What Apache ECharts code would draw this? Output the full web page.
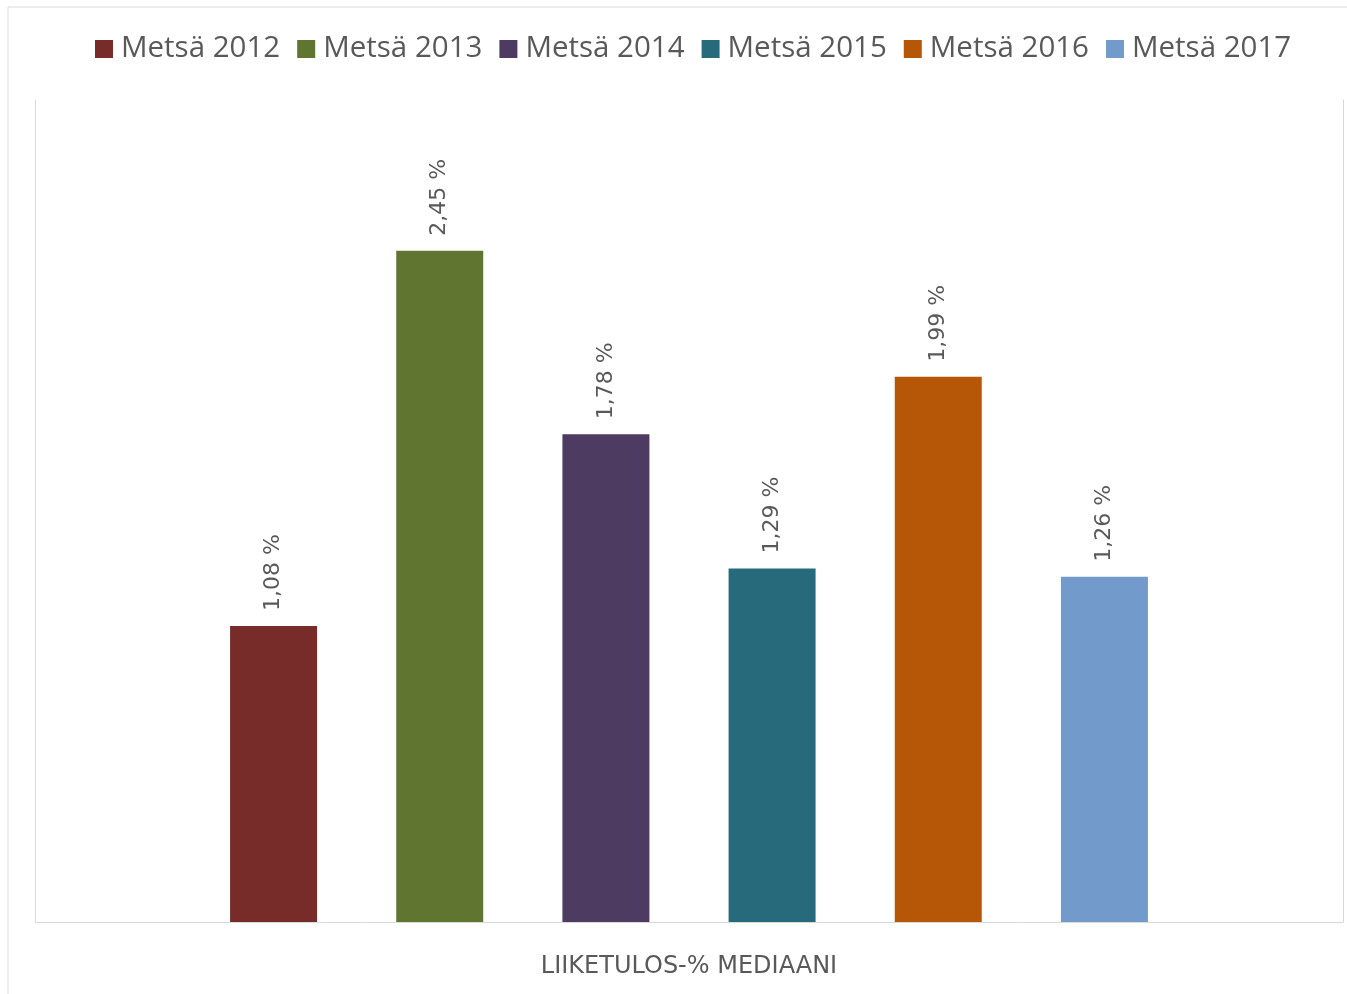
<!DOCTYPE html>
<html>
<head>
<meta charset="utf-8">
<script src="https://cdn.jsdelivr.net/npm/echarts@6/dist/echarts.min.js"></script>
<style>html,body{margin:0;padding:0;background:#fff}#c{width:1347px;height:994px}</style>
</head>
<body>
<div id="c"></div>
<script>
const categories = ['LIIKETULOS-% MEDIAANI'];
const seriesNames = ['Metsä 2012', 'Metsä 2013', 'Metsä 2014', 'Metsä 2015', 'Metsä 2016', 'Metsä 2017'];
const seriesValues = [1.08, 2.45, 1.78, 1.29, 1.99, 1.26];
const colors = ['#772C2A', '#5F7530', '#4D3B62', '#276A7C', '#B65708', '#729ACA'];

const font = '"Open Sans", "DejaVu Sans", sans-serif';
const wideFont = '"DejaVu Sans", sans-serif';
const chart = echarts.init(document.getElementById('c'), null, {renderer: 'canvas'});
chart.setOption({
  backgroundColor: '#fff',
  color: colors,
  animation: false,
  graphic: [{
    type: 'rect', shape: {x: 8, y: 7, width: 1400, height: 1100},
    style: {fill: 'none', stroke: '#d9d9d9', lineWidth: 1}, silent: true, z: -1
  }],
  legend: {
    top: 29, left: 90,
    itemWidth: 18, itemHeight: 18, itemGap: 17,
    icon: 'rect',
    textStyle: {fontFamily: font, fontSize: 29.5, color: '#595959', padding: [0, 0, 0, 3]},
    data: seriesNames
  },
  grid: {left: 35, right: 4, top: 100, bottom: 72, containLabel: false},
  xAxis: {
    type: 'category', data: categories,
    axisLine: {show: true, lineStyle: {color: '#d9d9d9', width: 1}},
    axisTick: {show: false},
    axisLabel: {fontFamily: wideFont, fontSize: 24, color: '#595959', margin: 33}
  },
  yAxis: [{
    type: 'value', min: 0, max: 3, interval: 0.5,
    axisLine: {show: true, lineStyle: {color: '#d9d9d9'}},
    axisTick: {show: false}, axisLabel: {show: false}, splitLine: {show: false}
  }, {
    type: 'value', min: 0, max: 3, interval: 0.5, position: 'right',
    axisLine: {show: true, lineStyle: {color: '#d9d9d9'}},
    axisTick: {show: false}, axisLabel: {show: false}, splitLine: {show: false}
  }],
  series: seriesNames.map((name, i) => ({
    name: name, type: 'bar',
    data: categories.map(() => seriesValues[i]),
    barWidth: 87, barGap: '91%',
    label: {
      show: true, position: 'top', rotate: 90, distance: 15,
      align: 'left', verticalAlign: 'middle',
      fontFamily: wideFont, fontSize: 22, color: '#595959',
      formatter: p => p.value.toFixed(2).replace('.', ',') + ' %'
    }
  }))
});
</script>
</body>
</html>
